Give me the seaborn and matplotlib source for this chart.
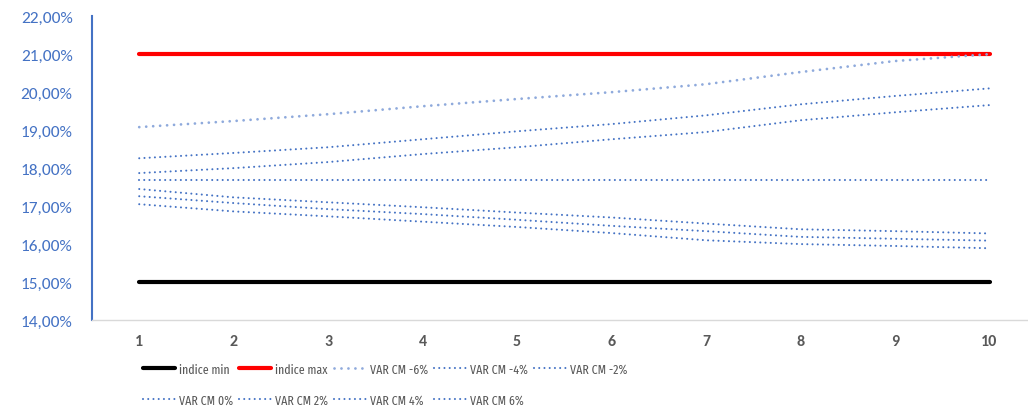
import matplotlib
matplotlib.use("Agg")
import matplotlib.pyplot as plt
import seaborn as sns
from matplotlib.ticker import FuncFormatter

periods = [1, 2, 3, 4, 5, 6, 7, 8, 9, 10]

indice_min = [15.0] * 10
indice_max = [21.0] * 10
var_cm_m6 = [19.08, 19.24, 19.42, 19.63, 19.82, 20.00, 20.21, 20.53, 20.82, 21.00]
var_cm_m4 = [18.26, 18.40, 18.55, 18.76, 18.97, 19.16, 19.39, 19.68, 19.90, 20.10]
var_cm_m2 = [17.87, 18.00, 18.16, 18.37, 18.55, 18.76, 18.95, 19.26, 19.47, 19.66]
var_cm_0 = [17.68] * 10
var_cm_p2 = [17.45, 17.23, 17.10, 16.97, 16.83, 16.70, 16.54, 16.39, 16.34, 16.28]
var_cm_p4 = [17.26, 17.08, 16.92, 16.79, 16.64, 16.48, 16.34, 16.19, 16.14, 16.09]
var_cm_p6 = [17.05, 16.86, 16.73, 16.59, 16.45, 16.29, 16.10, 16.00, 15.95, 15.89]

sns.set_style("white")
plt.rcParams["font.family"] = ["Carlito", "DejaVu Sans"]

fig = plt.figure(figsize=(10.28, 4.10), dpi=100)
ax = fig.add_axes([0.0895, 0.217, 0.919, 0.741])

dot = (0, (0.01, 2.5))
series = [
    ("indice min", indice_min, "black", "-", 3.0),
    ("indice max", indice_max, "#FF0000", "-", 3.0),
    ("VAR CM -6%", var_cm_m6, "#8FAADC", dot, 2.0),
    ("VAR CM -4%", var_cm_m4, "#4472C4", dot, 1.5),
    ("VAR CM -2%", var_cm_m2, "#4472C4", dot, 1.5),
    ("VAR CM 0%", var_cm_0, "#4472C4", dot, 1.5),
    ("VAR CM 2%", var_cm_p2, "#4472C4", dot, 1.5),
    ("VAR CM 4%", var_cm_p4, "#4472C4", dot, 1.5),
    ("VAR CM 6%", var_cm_p6, "#4472C4", dot, 1.5),
]

for name, vals, col, ls, lw in series:
    sns.lineplot(x=periods, y=vals, ax=ax, color=col, linestyle=ls,
                 linewidth=lw, label=name, dash_capstyle="round")

ax.set_xlim(0.5, 10.5)
ax.set_ylim(14, 22)
ax.set_xticks(periods)
ax.set_yticks(range(14, 23))
ax.yaxis.set_major_formatter(FuncFormatter(lambda v, p: f"{v:.2f}%".replace(".", ",")))
ax.tick_params(axis="y", colors="#4472C4", labelsize=12.5, length=0, pad=14)
ax.tick_params(axis="x", colors="#595959", labelsize=11.5, length=0, pad=10)
for lab in ax.get_xticklabels():
    lab.set_fontweight("bold")

for s in ["top", "right"]:
    ax.spines[s].set_visible(False)
ax.spines["left"].set_color("#4472C4")
ax.spines["left"].set_linewidth(1.5)
ax.spines["bottom"].set_color("#D9D9D9")
ax.spines["bottom"].set_linewidth(1.0)
ax.set_xlabel("")
ax.set_ylabel("")

# the legend text in the reference is very narrow: condensed face, sized to fit
leg_family = ["Fira Sans Extra Condensed", "Roboto Condensed", "Carlito", "DejaVu Sans"]
probe = fig.text(0, 0, "VAR CM -6%", fontsize=10, family=leg_family)
fig.canvas.draw()
w10 = probe.get_window_extent().width
leg_size = min(12.0, 10 * 58 / w10)
probe.set_fontsize(leg_size)
fig.canvas.draw()
h = probe.get_window_extent().height
probe.remove()
pp = fig.dpi / 72 * leg_size      # pixels per font-size unit
pad = 0.4 * pp
anchor_x = (143 - pad - 92) / 945
anchor_y = -(370 - h / 2 - pad - 321) / 304

# row-major ordering for a 5-column legend
handles, labels = ax.get_legend_handles_labels()
order = [0, 5, 1, 6, 2, 7, 3, 8, 4]
ax.legend([handles[i] for i in order], [labels[i] for i in order],
          ncol=5, loc="upper left", bbox_to_anchor=(anchor_x, anchor_y),
          frameon=False, prop={"family": leg_family, "size": leg_size},
          handlelength=32 / pp, handletextpad=4 / pp,
          columnspacing=6 / pp, labelspacing=(31 - h) / pp,
          labelcolor="#595959", borderaxespad=0)

fig.savefig("out.png", dpi=100)
